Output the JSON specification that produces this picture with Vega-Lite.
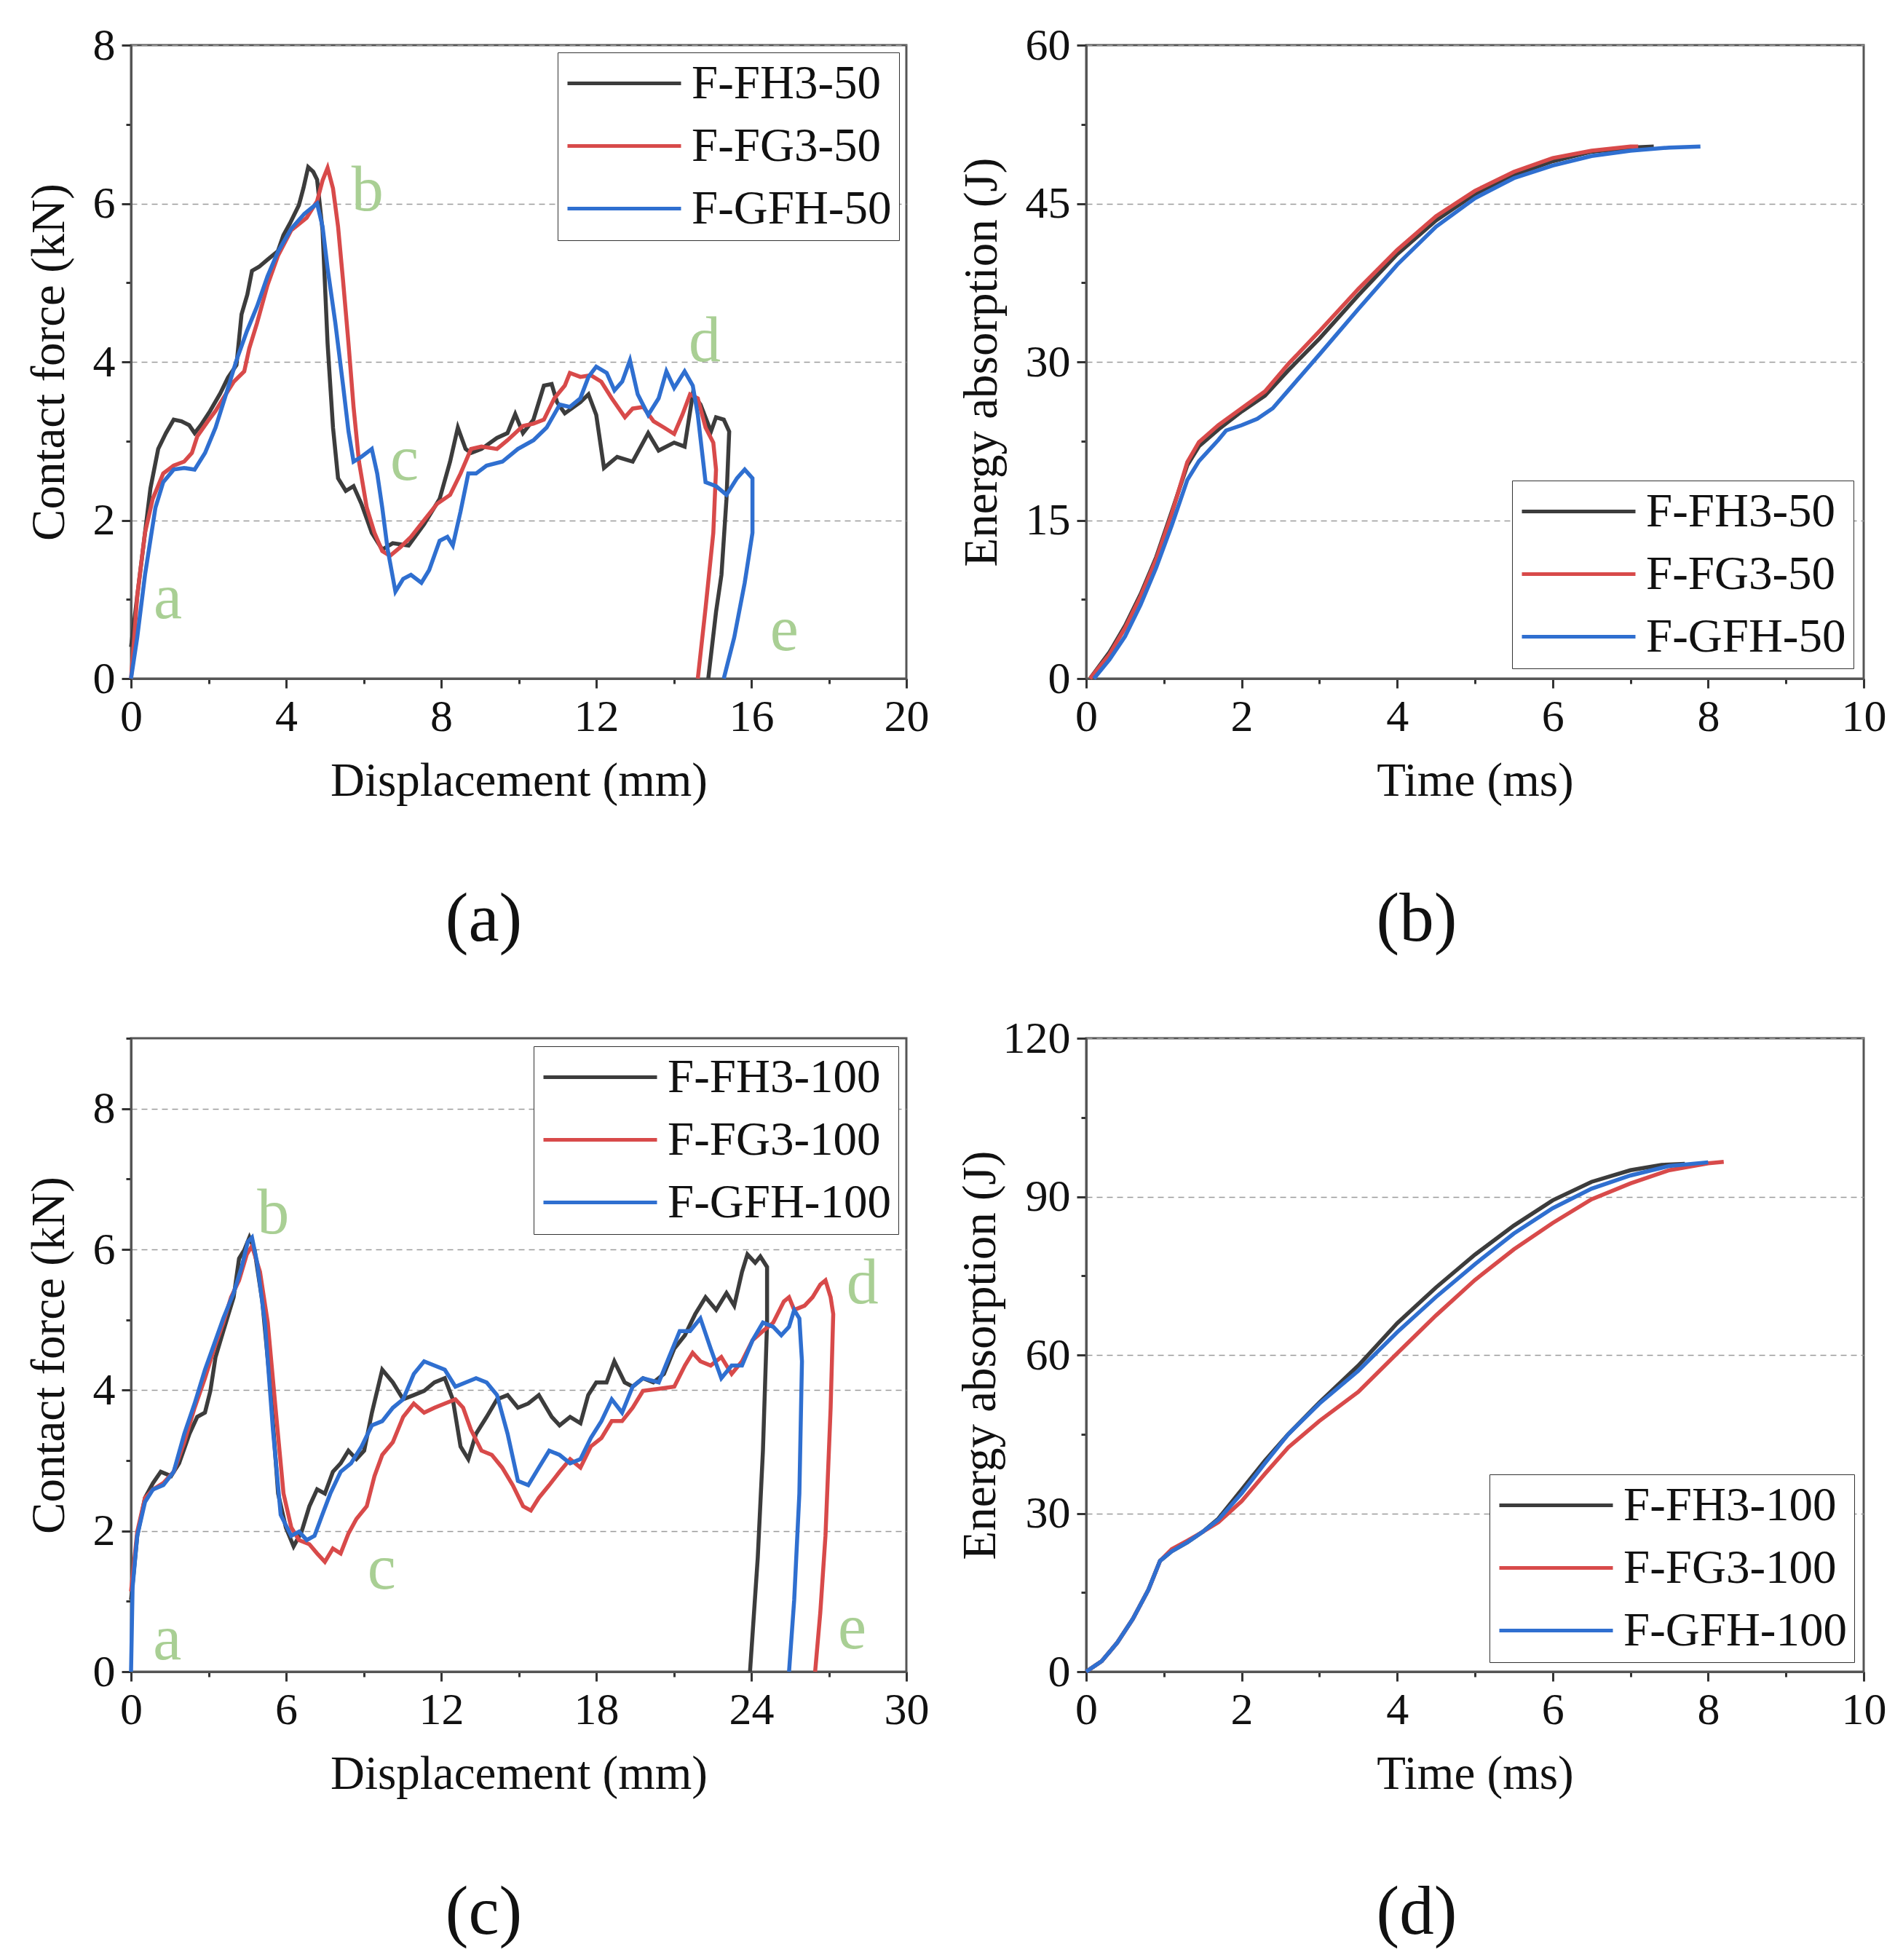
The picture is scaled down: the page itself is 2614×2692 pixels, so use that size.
{
  "$schema": "https://vega.github.io/schema/vega-lite/v6.json",
  "padding": {"left": 33, "top": 29, "right": 5, "bottom": 5},
  "background": "white",
  "config": {
    "font": "Liberation Serif",
    "view": {"stroke": "#555555", "strokeWidth": 3},
    "axis": {
      "labelFont": "Liberation Serif", "titleFont": "Liberation Serif",
      "labelFontSize": 62, "titleFontSize": 65, "titleFontWeight": "normal",
      "labelColor": "#111111", "titleColor": "#111111",
      "domainColor": "#555555", "domainWidth": 3,
      "tickColor": "#333333", "tickWidth": 3, "format": "d",
      "labelPadding": 9, "titlePadding": 26, "grid": false, "labelFlush": false, "labelOverlap": false
    },
    "axisY": {"grid": true, "gridDash": [8, 6], "gridColor": "#9a9a9a", "gridWidth": 1.5},
    "legend": {
      "title": null, "labelFont": "Liberation Serif", "labelFontSize": 65, "labelColor": "#111111",
      "symbolType": "M-3,0H3", "symbolSize": 2704, "symbolStrokeWidth": 5,
      "symbolOffset": 49, "labelOffset": 60, "labelLimit": 0,
      "fillColor": "white", "strokeColor": "#333333", "padding": 10, "rowPadding": 20
    },
    "title": {"font": "Liberation Serif", "fontSize": 95, "fontWeight": "normal", "color": "#111111", "orient": "bottom", "offset": 112}
  },
  "datasets": {
    "fa": [
      {"s":"F-FH3-50","x":0,"y":0.4},{"s":"F-FH3-50","x":0.1,"y":0.8},{"s":"F-FH3-50","x":0.3,"y":1.6},{"s":"F-FH3-50","x":0.5,"y":2.4},{"s":"F-FH3-50","x":0.7,"y":2.9},{"s":"F-FH3-50","x":0.9,"y":3.1},{"s":"F-FH3-50","x":1.1,"y":3.27},{"s":"F-FH3-50","x":1.3,"y":3.25},{"s":"F-FH3-50","x":1.5,"y":3.2},{"s":"F-FH3-50","x":1.64,"y":3.1},{"s":"F-FH3-50","x":1.8,"y":3.2},{"s":"F-FH3-50","x":2.04,"y":3.38},{"s":"F-FH3-50","x":2.3,"y":3.6},{"s":"F-FH3-50","x":2.5,"y":3.8},{"s":"F-FH3-50","x":2.72,"y":3.96},{"s":"F-FH3-50","x":2.85,"y":4.6},{"s":"F-FH3-50","x":3.0,"y":4.85},{"s":"F-FH3-50","x":3.12,"y":5.15},{"s":"F-FH3-50","x":3.3,"y":5.2},{"s":"F-FH3-50","x":3.52,"y":5.29},{"s":"F-FH3-50","x":3.79,"y":5.4},{"s":"F-FH3-50","x":3.93,"y":5.6},{"s":"F-FH3-50","x":4.1,"y":5.75},{"s":"F-FH3-50","x":4.33,"y":5.98},{"s":"F-FH3-50","x":4.45,"y":6.2},{"s":"F-FH3-50","x":4.57,"y":6.46},{"s":"F-FH3-50","x":4.7,"y":6.4},{"s":"F-FH3-50","x":4.8,"y":6.3},{"s":"F-FH3-50","x":4.94,"y":5.66},{"s":"F-FH3-50","x":5.07,"y":4.23},{"s":"F-FH3-50","x":5.21,"y":3.17},{"s":"F-FH3-50","x":5.34,"y":2.53},{"s":"F-FH3-50","x":5.54,"y":2.37},{"s":"F-FH3-50","x":5.74,"y":2.43},{"s":"F-FH3-50","x":5.94,"y":2.21},{"s":"F-FH3-50","x":6.21,"y":1.84},{"s":"F-FH3-50","x":6.48,"y":1.63},{"s":"F-FH3-50","x":6.75,"y":1.71},{"s":"F-FH3-50","x":7.16,"y":1.68},{"s":"F-FH3-50","x":7.56,"y":1.95},{"s":"F-FH3-50","x":7.96,"y":2.27},{"s":"F-FH3-50","x":8.23,"y":2.74},{"s":"F-FH3-50","x":8.43,"y":3.17},{"s":"F-FH3-50","x":8.63,"y":2.9},{"s":"F-FH3-50","x":8.77,"y":2.85},{"s":"F-FH3-50","x":9.04,"y":2.9},{"s":"F-FH3-50","x":9.44,"y":3.04},{"s":"F-FH3-50","x":9.71,"y":3.1},{"s":"F-FH3-50","x":9.91,"y":3.34},{"s":"F-FH3-50","x":10.11,"y":3.1},{"s":"F-FH3-50","x":10.38,"y":3.27},{"s":"F-FH3-50","x":10.65,"y":3.7},{"s":"F-FH3-50","x":10.85,"y":3.72},{"s":"F-FH3-50","x":10.99,"y":3.49},{"s":"F-FH3-50","x":11.19,"y":3.35},{"s":"F-FH3-50","x":11.59,"y":3.49},{"s":"F-FH3-50","x":11.8,"y":3.59},{"s":"F-FH3-50","x":12.0,"y":3.33},{"s":"F-FH3-50","x":12.2,"y":2.66},{"s":"F-FH3-50","x":12.54,"y":2.8},{"s":"F-FH3-50","x":12.94,"y":2.74},{"s":"F-FH3-50","x":13.34,"y":3.1},{"s":"F-FH3-50","x":13.61,"y":2.88},{"s":"F-FH3-50","x":14.01,"y":2.98},{"s":"F-FH3-50","x":14.28,"y":2.93},{"s":"F-FH3-50","x":14.49,"y":3.59},{"s":"F-FH3-50","x":14.69,"y":3.46},{"s":"F-FH3-50","x":14.96,"y":3.12},{"s":"F-FH3-50","x":15.09,"y":3.3},{"s":"F-FH3-50","x":15.29,"y":3.27},{"s":"F-FH3-50","x":15.43,"y":3.12},{"s":"F-FH3-50","x":15.36,"y":2.27},{"s":"F-FH3-50","x":15.23,"y":1.31},{"s":"F-FH3-50","x":15.09,"y":0.84},{"s":"F-FH3-50","x":14.89,"y":0},
      {"s":"F-FG3-50","x":0,"y":0},{"s":"F-FG3-50","x":0.08,"y":0.5},{"s":"F-FG3-50","x":0.16,"y":1.05},{"s":"F-FG3-50","x":0.36,"y":1.84},{"s":"F-FG3-50","x":0.56,"y":2.27},{"s":"F-FG3-50","x":0.83,"y":2.59},{"s":"F-FG3-50","x":1.1,"y":2.69},{"s":"F-FG3-50","x":1.37,"y":2.74},{"s":"F-FG3-50","x":1.57,"y":2.85},{"s":"F-FG3-50","x":1.71,"y":3.06},{"s":"F-FG3-50","x":1.98,"y":3.25},{"s":"F-FG3-50","x":2.18,"y":3.38},{"s":"F-FG3-50","x":2.38,"y":3.54},{"s":"F-FG3-50","x":2.65,"y":3.75},{"s":"F-FG3-50","x":2.92,"y":3.88},{"s":"F-FG3-50","x":3.05,"y":4.17},{"s":"F-FG3-50","x":3.25,"y":4.49},{"s":"F-FG3-50","x":3.52,"y":4.97},{"s":"F-FG3-50","x":3.79,"y":5.34},{"s":"F-FG3-50","x":4.13,"y":5.66},{"s":"F-FG3-50","x":4.53,"y":5.82},{"s":"F-FG3-50","x":4.8,"y":6.03},{"s":"F-FG3-50","x":4.94,"y":6.29},{"s":"F-FG3-50","x":5.07,"y":6.45},{"s":"F-FG3-50","x":5.21,"y":6.19},{"s":"F-FG3-50","x":5.34,"y":5.71},{"s":"F-FG3-50","x":5.47,"y":5.02},{"s":"F-FG3-50","x":5.61,"y":4.23},{"s":"F-FG3-50","x":5.74,"y":3.43},{"s":"F-FG3-50","x":5.88,"y":2.74},{"s":"F-FG3-50","x":6.08,"y":2.16},{"s":"F-FG3-50","x":6.28,"y":1.84},{"s":"F-FG3-50","x":6.48,"y":1.61},{"s":"F-FG3-50","x":6.68,"y":1.55},{"s":"F-FG3-50","x":6.95,"y":1.66},{"s":"F-FG3-50","x":7.22,"y":1.79},{"s":"F-FG3-50","x":7.56,"y":2.0},{"s":"F-FG3-50","x":7.9,"y":2.21},{"s":"F-FG3-50","x":8.23,"y":2.32},{"s":"F-FG3-50","x":8.5,"y":2.59},{"s":"F-FG3-50","x":8.77,"y":2.9},{"s":"F-FG3-50","x":9.04,"y":2.93},{"s":"F-FG3-50","x":9.44,"y":2.9},{"s":"F-FG3-50","x":9.71,"y":3.01},{"s":"F-FG3-50","x":10.11,"y":3.19},{"s":"F-FG3-50","x":10.38,"y":3.22},{"s":"F-FG3-50","x":10.65,"y":3.27},{"s":"F-FG3-50","x":10.92,"y":3.54},{"s":"F-FG3-50","x":11.19,"y":3.7},{"s":"F-FG3-50","x":11.32,"y":3.86},{"s":"F-FG3-50","x":11.59,"y":3.81},{"s":"F-FG3-50","x":11.86,"y":3.83},{"s":"F-FG3-50","x":12.13,"y":3.75},{"s":"F-FG3-50","x":12.4,"y":3.54},{"s":"F-FG3-50","x":12.74,"y":3.3},{"s":"F-FG3-50","x":12.94,"y":3.41},{"s":"F-FG3-50","x":13.21,"y":3.43},{"s":"F-FG3-50","x":13.48,"y":3.25},{"s":"F-FG3-50","x":13.75,"y":3.17},{"s":"F-FG3-50","x":14.01,"y":3.09},{"s":"F-FG3-50","x":14.22,"y":3.33},{"s":"F-FG3-50","x":14.42,"y":3.59},{"s":"F-FG3-50","x":14.62,"y":3.54},{"s":"F-FG3-50","x":14.82,"y":3.17},{"s":"F-FG3-50","x":15.02,"y":2.98},{"s":"F-FG3-50","x":15.09,"y":2.64},{"s":"F-FG3-50","x":15.02,"y":1.84},{"s":"F-FG3-50","x":14.82,"y":0.89},{"s":"F-FG3-50","x":14.62,"y":0},
      {"s":"F-GFH-50","x":0,"y":0},{"s":"F-GFH-50","x":0.16,"y":0.52},{"s":"F-GFH-50","x":0.36,"y":1.31},{"s":"F-GFH-50","x":0.63,"y":2.16},{"s":"F-GFH-50","x":0.83,"y":2.48},{"s":"F-GFH-50","x":1.1,"y":2.64},{"s":"F-GFH-50","x":1.37,"y":2.66},{"s":"F-GFH-50","x":1.64,"y":2.64},{"s":"F-GFH-50","x":1.91,"y":2.85},{"s":"F-GFH-50","x":2.18,"y":3.17},{"s":"F-GFH-50","x":2.45,"y":3.59},{"s":"F-GFH-50","x":2.72,"y":4.02},{"s":"F-GFH-50","x":2.99,"y":4.39},{"s":"F-GFH-50","x":3.25,"y":4.7},{"s":"F-GFH-50","x":3.52,"y":5.08},{"s":"F-GFH-50","x":3.79,"y":5.39},{"s":"F-GFH-50","x":4.13,"y":5.68},{"s":"F-GFH-50","x":4.47,"y":5.87},{"s":"F-GFH-50","x":4.8,"y":6.0},{"s":"F-GFH-50","x":4.94,"y":5.71},{"s":"F-GFH-50","x":5.07,"y":5.18},{"s":"F-GFH-50","x":5.27,"y":4.49},{"s":"F-GFH-50","x":5.47,"y":3.7},{"s":"F-GFH-50","x":5.61,"y":3.12},{"s":"F-GFH-50","x":5.74,"y":2.74},{"s":"F-GFH-50","x":5.94,"y":2.8},{"s":"F-GFH-50","x":6.21,"y":2.9},{"s":"F-GFH-50","x":6.35,"y":2.59},{"s":"F-GFH-50","x":6.48,"y":2.16},{"s":"F-GFH-50","x":6.62,"y":1.63},{"s":"F-GFH-50","x":6.82,"y":1.1},{"s":"F-GFH-50","x":7.02,"y":1.26},{"s":"F-GFH-50","x":7.22,"y":1.31},{"s":"F-GFH-50","x":7.49,"y":1.21},{"s":"F-GFH-50","x":7.69,"y":1.37},{"s":"F-GFH-50","x":7.96,"y":1.74},{"s":"F-GFH-50","x":8.16,"y":1.79},{"s":"F-GFH-50","x":8.3,"y":1.68},{"s":"F-GFH-50","x":8.5,"y":2.11},{"s":"F-GFH-50","x":8.7,"y":2.59},{"s":"F-GFH-50","x":8.9,"y":2.59},{"s":"F-GFH-50","x":9.17,"y":2.69},{"s":"F-GFH-50","x":9.58,"y":2.74},{"s":"F-GFH-50","x":9.98,"y":2.9},{"s":"F-GFH-50","x":10.38,"y":3.01},{"s":"F-GFH-50","x":10.72,"y":3.17},{"s":"F-GFH-50","x":11.06,"y":3.46},{"s":"F-GFH-50","x":11.32,"y":3.43},{"s":"F-GFH-50","x":11.59,"y":3.54},{"s":"F-GFH-50","x":11.8,"y":3.81},{"s":"F-GFH-50","x":12.0,"y":3.94},{"s":"F-GFH-50","x":12.27,"y":3.86},{"s":"F-GFH-50","x":12.47,"y":3.64},{"s":"F-GFH-50","x":12.67,"y":3.75},{"s":"F-GFH-50","x":12.87,"y":4.02},{"s":"F-GFH-50","x":13.07,"y":3.59},{"s":"F-GFH-50","x":13.34,"y":3.33},{"s":"F-GFH-50","x":13.61,"y":3.54},{"s":"F-GFH-50","x":13.81,"y":3.88},{"s":"F-GFH-50","x":14.01,"y":3.67},{"s":"F-GFH-50","x":14.28,"y":3.88},{"s":"F-GFH-50","x":14.49,"y":3.7},{"s":"F-GFH-50","x":14.62,"y":3.33},{"s":"F-GFH-50","x":14.82,"y":2.48},{"s":"F-GFH-50","x":15.09,"y":2.43},{"s":"F-GFH-50","x":15.36,"y":2.32},{"s":"F-GFH-50","x":15.63,"y":2.53},{"s":"F-GFH-50","x":15.83,"y":2.64},{"s":"F-GFH-50","x":16.03,"y":2.53},{"s":"F-GFH-50","x":16.03,"y":1.84},{"s":"F-GFH-50","x":15.83,"y":1.21},{"s":"F-GFH-50","x":15.56,"y":0.52},{"s":"F-GFH-50","x":15.29,"y":0}
    ],
    "fb": [
      {"s":"F-FH3-50","x":0.05,"y":0},{"s":"F-FH3-50","x":0.3,"y":2.5},{"s":"F-FH3-50","x":0.5,"y":5.0},{"s":"F-FH3-50","x":0.7,"y":8.0},{"s":"F-FH3-50","x":0.9,"y":11.5},{"s":"F-FH3-50","x":1.1,"y":15.8},{"s":"F-FH3-50","x":1.3,"y":20.2},{"s":"F-FH3-50","x":1.45,"y":22.0},{"s":"F-FH3-50","x":1.7,"y":23.6},{"s":"F-FH3-50","x":2.0,"y":25.3},{"s":"F-FH3-50","x":2.3,"y":26.8},{"s":"F-FH3-50","x":2.6,"y":29.2},{"s":"F-FH3-50","x":3.0,"y":32.2},{"s":"F-FH3-50","x":3.5,"y":36.3},{"s":"F-FH3-50","x":4.0,"y":40.2},{"s":"F-FH3-50","x":4.5,"y":43.4},{"s":"F-FH3-50","x":5.0,"y":45.9},{"s":"F-FH3-50","x":5.5,"y":47.7},{"s":"F-FH3-50","x":6.0,"y":49.0},{"s":"F-FH3-50","x":6.5,"y":49.9},{"s":"F-FH3-50","x":7.0,"y":50.3},{"s":"F-FH3-50","x":7.3,"y":50.4},
      {"s":"F-FG3-50","x":0.05,"y":0},{"s":"F-FG3-50","x":0.3,"y":2.3},{"s":"F-FG3-50","x":0.5,"y":4.8},{"s":"F-FG3-50","x":0.7,"y":7.8},{"s":"F-FG3-50","x":0.9,"y":11.3},{"s":"F-FG3-50","x":1.1,"y":15.6},{"s":"F-FG3-50","x":1.3,"y":20.5},{"s":"F-FG3-50","x":1.45,"y":22.4},{"s":"F-FG3-50","x":1.7,"y":24.0},{"s":"F-FG3-50","x":2.0,"y":25.6},{"s":"F-FG3-50","x":2.3,"y":27.2},{"s":"F-FG3-50","x":2.6,"y":29.8},{"s":"F-FG3-50","x":3.0,"y":32.9},{"s":"F-FG3-50","x":3.5,"y":36.9},{"s":"F-FG3-50","x":4.0,"y":40.6},{"s":"F-FG3-50","x":4.5,"y":43.8},{"s":"F-FG3-50","x":5.0,"y":46.2},{"s":"F-FG3-50","x":5.5,"y":48.0},{"s":"F-FG3-50","x":6.0,"y":49.3},{"s":"F-FG3-50","x":6.5,"y":50.0},{"s":"F-FG3-50","x":7.0,"y":50.4},{"s":"F-FG3-50","x":7.1,"y":50.4},
      {"s":"F-GFH-50","x":0.1,"y":0},{"s":"F-GFH-50","x":0.3,"y":1.8},{"s":"F-GFH-50","x":0.5,"y":4.0},{"s":"F-GFH-50","x":0.7,"y":7.0},{"s":"F-GFH-50","x":0.9,"y":10.5},{"s":"F-GFH-50","x":1.1,"y":14.5},{"s":"F-GFH-50","x":1.3,"y":18.8},{"s":"F-GFH-50","x":1.45,"y":20.6},{"s":"F-GFH-50","x":1.7,"y":22.6},{"s":"F-GFH-50","x":1.8,"y":23.5},{"s":"F-GFH-50","x":2.0,"y":24.0},{"s":"F-GFH-50","x":2.2,"y":24.6},{"s":"F-GFH-50","x":2.4,"y":25.6},{"s":"F-GFH-50","x":2.6,"y":27.3},{"s":"F-GFH-50","x":3.0,"y":30.7},{"s":"F-GFH-50","x":3.5,"y":35.0},{"s":"F-GFH-50","x":4.0,"y":39.2},{"s":"F-GFH-50","x":4.5,"y":42.8},{"s":"F-GFH-50","x":5.0,"y":45.5},{"s":"F-GFH-50","x":5.5,"y":47.4},{"s":"F-GFH-50","x":6.0,"y":48.6},{"s":"F-GFH-50","x":6.5,"y":49.5},{"s":"F-GFH-50","x":7.0,"y":50.0},{"s":"F-GFH-50","x":7.5,"y":50.3},{"s":"F-GFH-50","x":7.9,"y":50.4}
    ],
    "fc": [
      {"s":"F-FH3-100","x":0,"y":1.02},{"s":"F-FH3-100","x":0.24,"y":1.93},{"s":"F-FH3-100","x":0.54,"y":2.47},{"s":"F-FH3-100","x":0.85,"y":2.68},{"s":"F-FH3-100","x":1.15,"y":2.84},{"s":"F-FH3-100","x":1.55,"y":2.78},{"s":"F-FH3-100","x":1.86,"y":2.96},{"s":"F-FH3-100","x":2.26,"y":3.38},{"s":"F-FH3-100","x":2.56,"y":3.62},{"s":"F-FH3-100","x":2.86,"y":3.68},{"s":"F-FH3-100","x":3.07,"y":3.99},{"s":"F-FH3-100","x":3.27,"y":4.47},{"s":"F-FH3-100","x":3.57,"y":4.84},{"s":"F-FH3-100","x":3.97,"y":5.32},{"s":"F-FH3-100","x":4.18,"y":5.87},{"s":"F-FH3-100","x":4.38,"y":5.99},{"s":"F-FH3-100","x":4.58,"y":6.17},{"s":"F-FH3-100","x":4.78,"y":5.99},{"s":"F-FH3-100","x":5.08,"y":5.26},{"s":"F-FH3-100","x":5.39,"y":4.05},{"s":"F-FH3-100","x":5.69,"y":2.53},{"s":"F-FH3-100","x":5.99,"y":2.05},{"s":"F-FH3-100","x":6.29,"y":1.78},{"s":"F-FH3-100","x":6.6,"y":1.99},{"s":"F-FH3-100","x":6.9,"y":2.35},{"s":"F-FH3-100","x":7.2,"y":2.59},{"s":"F-FH3-100","x":7.5,"y":2.53},{"s":"F-FH3-100","x":7.81,"y":2.84},{"s":"F-FH3-100","x":8.11,"y":2.96},{"s":"F-FH3-100","x":8.41,"y":3.14},{"s":"F-FH3-100","x":8.72,"y":3.02},{"s":"F-FH3-100","x":9.02,"y":3.14},{"s":"F-FH3-100","x":9.32,"y":3.68},{"s":"F-FH3-100","x":9.72,"y":4.29},{"s":"F-FH3-100","x":10.13,"y":4.11},{"s":"F-FH3-100","x":10.53,"y":3.87},{"s":"F-FH3-100","x":10.94,"y":3.93},{"s":"F-FH3-100","x":11.34,"y":3.99},{"s":"F-FH3-100","x":11.74,"y":4.11},{"s":"F-FH3-100","x":12.14,"y":4.17},{"s":"F-FH3-100","x":12.45,"y":3.87},{"s":"F-FH3-100","x":12.75,"y":3.2},{"s":"F-FH3-100","x":13.05,"y":3.02},{"s":"F-FH3-100","x":13.35,"y":3.38},{"s":"F-FH3-100","x":13.76,"y":3.62},{"s":"F-FH3-100","x":14.16,"y":3.87},{"s":"F-FH3-100","x":14.57,"y":3.93},{"s":"F-FH3-100","x":14.97,"y":3.75},{"s":"F-FH3-100","x":15.37,"y":3.81},{"s":"F-FH3-100","x":15.78,"y":3.93},{"s":"F-FH3-100","x":16.28,"y":3.62},{"s":"F-FH3-100","x":16.58,"y":3.5},{"s":"F-FH3-100","x":16.99,"y":3.62},{"s":"F-FH3-100","x":17.39,"y":3.53},{"s":"F-FH3-100","x":17.69,"y":3.93},{"s":"F-FH3-100","x":18.0,"y":4.11},{"s":"F-FH3-100","x":18.4,"y":4.11},{"s":"F-FH3-100","x":18.7,"y":4.41},{"s":"F-FH3-100","x":19.1,"y":4.11},{"s":"F-FH3-100","x":19.41,"y":4.05},{"s":"F-FH3-100","x":19.81,"y":4.17},{"s":"F-FH3-100","x":20.21,"y":4.11},{"s":"F-FH3-100","x":20.62,"y":4.23},{"s":"F-FH3-100","x":21.02,"y":4.59},{"s":"F-FH3-100","x":21.43,"y":4.78},{"s":"F-FH3-100","x":21.83,"y":5.08},{"s":"F-FH3-100","x":22.23,"y":5.32},{"s":"F-FH3-100","x":22.64,"y":5.14},{"s":"F-FH3-100","x":23.04,"y":5.38},{"s":"F-FH3-100","x":23.34,"y":5.2},{"s":"F-FH3-100","x":23.64,"y":5.68},{"s":"F-FH3-100","x":23.85,"y":5.93},{"s":"F-FH3-100","x":24.15,"y":5.81},{"s":"F-FH3-100","x":24.35,"y":5.9},{"s":"F-FH3-100","x":24.61,"y":5.75},{"s":"F-FH3-100","x":24.61,"y":4.96},{"s":"F-FH3-100","x":24.45,"y":3.14},{"s":"F-FH3-100","x":24.25,"y":1.62},{"s":"F-FH3-100","x":23.95,"y":0},
      {"s":"F-FG3-100","x":0,"y":1.14},{"s":"F-FG3-100","x":0.24,"y":1.99},{"s":"F-FG3-100","x":0.54,"y":2.47},{"s":"F-FG3-100","x":0.85,"y":2.59},{"s":"F-FG3-100","x":1.25,"y":2.68},{"s":"F-FG3-100","x":1.65,"y":2.84},{"s":"F-FG3-100","x":2.06,"y":3.26},{"s":"F-FG3-100","x":2.46,"y":3.75},{"s":"F-FG3-100","x":2.86,"y":4.17},{"s":"F-FG3-100","x":3.27,"y":4.65},{"s":"F-FG3-100","x":3.57,"y":4.96},{"s":"F-FG3-100","x":3.87,"y":5.32},{"s":"F-FG3-100","x":4.18,"y":5.56},{"s":"F-FG3-100","x":4.48,"y":5.93},{"s":"F-FG3-100","x":4.68,"y":6.05},{"s":"F-FG3-100","x":4.99,"y":5.68},{"s":"F-FG3-100","x":5.29,"y":4.96},{"s":"F-FG3-100","x":5.59,"y":3.75},{"s":"F-FG3-100","x":5.9,"y":2.53},{"s":"F-FG3-100","x":6.2,"y":2.05},{"s":"F-FG3-100","x":6.5,"y":1.87},{"s":"F-FG3-100","x":6.9,"y":1.81},{"s":"F-FG3-100","x":7.2,"y":1.68},{"s":"F-FG3-100","x":7.5,"y":1.56},{"s":"F-FG3-100","x":7.81,"y":1.75},{"s":"F-FG3-100","x":8.11,"y":1.68},{"s":"F-FG3-100","x":8.41,"y":1.96},{"s":"F-FG3-100","x":8.72,"y":2.17},{"s":"F-FG3-100","x":9.12,"y":2.35},{"s":"F-FG3-100","x":9.42,"y":2.78},{"s":"F-FG3-100","x":9.72,"y":3.08},{"s":"F-FG3-100","x":10.13,"y":3.26},{"s":"F-FG3-100","x":10.53,"y":3.62},{"s":"F-FG3-100","x":10.94,"y":3.81},{"s":"F-FG3-100","x":11.34,"y":3.68},{"s":"F-FG3-100","x":11.74,"y":3.75},{"s":"F-FG3-100","x":12.14,"y":3.81},{"s":"F-FG3-100","x":12.55,"y":3.87},{"s":"F-FG3-100","x":12.85,"y":3.75},{"s":"F-FG3-100","x":13.15,"y":3.44},{"s":"F-FG3-100","x":13.56,"y":3.14},{"s":"F-FG3-100","x":13.96,"y":3.08},{"s":"F-FG3-100","x":14.36,"y":2.9},{"s":"F-FG3-100","x":14.77,"y":2.65},{"s":"F-FG3-100","x":15.17,"y":2.35},{"s":"F-FG3-100","x":15.47,"y":2.29},{"s":"F-FG3-100","x":15.78,"y":2.47},{"s":"F-FG3-100","x":16.18,"y":2.65},{"s":"F-FG3-100","x":16.58,"y":2.84},{"s":"F-FG3-100","x":16.99,"y":3.02},{"s":"F-FG3-100","x":17.39,"y":2.9},{"s":"F-FG3-100","x":17.79,"y":3.2},{"s":"F-FG3-100","x":18.2,"y":3.32},{"s":"F-FG3-100","x":18.6,"y":3.56},{"s":"F-FG3-100","x":19.0,"y":3.56},{"s":"F-FG3-100","x":19.41,"y":3.75},{"s":"F-FG3-100","x":19.81,"y":3.99},{"s":"F-FG3-100","x":20.42,"y":4.02},{"s":"F-FG3-100","x":21.02,"y":4.05},{"s":"F-FG3-100","x":21.43,"y":4.35},{"s":"F-FG3-100","x":21.73,"y":4.53},{"s":"F-FG3-100","x":22.03,"y":4.41},{"s":"F-FG3-100","x":22.43,"y":4.35},{"s":"F-FG3-100","x":22.84,"y":4.47},{"s":"F-FG3-100","x":23.24,"y":4.23},{"s":"F-FG3-100","x":23.64,"y":4.41},{"s":"F-FG3-100","x":24.05,"y":4.71},{"s":"F-FG3-100","x":24.45,"y":4.84},{"s":"F-FG3-100","x":24.85,"y":4.96},{"s":"F-FG3-100","x":25.26,"y":5.26},{"s":"F-FG3-100","x":25.46,"y":5.32},{"s":"F-FG3-100","x":25.66,"y":5.14},{"s":"F-FG3-100","x":26.06,"y":5.2},{"s":"F-FG3-100","x":26.37,"y":5.32},{"s":"F-FG3-100","x":26.67,"y":5.5},{"s":"F-FG3-100","x":26.87,"y":5.56},{"s":"F-FG3-100","x":27.07,"y":5.32},{"s":"F-FG3-100","x":27.17,"y":5.08},{"s":"F-FG3-100","x":27.07,"y":3.75},{"s":"F-FG3-100","x":26.87,"y":1.93},{"s":"F-FG3-100","x":26.67,"y":0.84},{"s":"F-FG3-100","x":26.47,"y":0},
      {"s":"F-GFH-100","x":0,"y":0},{"s":"F-GFH-100","x":0.06,"y":1.2},{"s":"F-GFH-100","x":0.24,"y":1.93},{"s":"F-GFH-100","x":0.54,"y":2.41},{"s":"F-GFH-100","x":0.85,"y":2.59},{"s":"F-GFH-100","x":1.25,"y":2.65},{"s":"F-GFH-100","x":1.65,"y":2.84},{"s":"F-GFH-100","x":2.06,"y":3.38},{"s":"F-GFH-100","x":2.46,"y":3.81},{"s":"F-GFH-100","x":2.86,"y":4.29},{"s":"F-GFH-100","x":3.27,"y":4.71},{"s":"F-GFH-100","x":3.57,"y":5.02},{"s":"F-GFH-100","x":3.97,"y":5.38},{"s":"F-GFH-100","x":4.28,"y":5.75},{"s":"F-GFH-100","x":4.52,"y":6.11},{"s":"F-GFH-100","x":4.68,"y":6.17},{"s":"F-GFH-100","x":4.88,"y":5.81},{"s":"F-GFH-100","x":5.18,"y":4.96},{"s":"F-GFH-100","x":5.49,"y":3.44},{"s":"F-GFH-100","x":5.79,"y":2.23},{"s":"F-GFH-100","x":6.2,"y":1.93},{"s":"F-GFH-100","x":6.5,"y":1.99},{"s":"F-GFH-100","x":6.8,"y":1.87},{"s":"F-GFH-100","x":7.1,"y":1.93},{"s":"F-GFH-100","x":7.4,"y":2.23},{"s":"F-GFH-100","x":7.71,"y":2.53},{"s":"F-GFH-100","x":8.11,"y":2.84},{"s":"F-GFH-100","x":8.51,"y":2.96},{"s":"F-GFH-100","x":8.92,"y":3.2},{"s":"F-GFH-100","x":9.32,"y":3.5},{"s":"F-GFH-100","x":9.72,"y":3.56},{"s":"F-GFH-100","x":10.13,"y":3.75},{"s":"F-GFH-100","x":10.53,"y":3.87},{"s":"F-GFH-100","x":10.94,"y":4.23},{"s":"F-GFH-100","x":11.34,"y":4.41},{"s":"F-GFH-100","x":11.74,"y":4.35},{"s":"F-GFH-100","x":12.14,"y":4.29},{"s":"F-GFH-100","x":12.55,"y":4.05},{"s":"F-GFH-100","x":12.95,"y":4.11},{"s":"F-GFH-100","x":13.35,"y":4.17},{"s":"F-GFH-100","x":13.76,"y":4.11},{"s":"F-GFH-100","x":14.16,"y":3.93},{"s":"F-GFH-100","x":14.57,"y":3.38},{"s":"F-GFH-100","x":14.97,"y":2.71},{"s":"F-GFH-100","x":15.37,"y":2.65},{"s":"F-GFH-100","x":15.78,"y":2.9},{"s":"F-GFH-100","x":16.18,"y":3.14},{"s":"F-GFH-100","x":16.58,"y":3.08},{"s":"F-GFH-100","x":16.99,"y":2.96},{"s":"F-GFH-100","x":17.39,"y":3.02},{"s":"F-GFH-100","x":17.79,"y":3.32},{"s":"F-GFH-100","x":18.2,"y":3.56},{"s":"F-GFH-100","x":18.6,"y":3.87},{"s":"F-GFH-100","x":19.0,"y":3.68},{"s":"F-GFH-100","x":19.41,"y":4.05},{"s":"F-GFH-100","x":19.81,"y":4.17},{"s":"F-GFH-100","x":20.42,"y":4.11},{"s":"F-GFH-100","x":20.82,"y":4.47},{"s":"F-GFH-100","x":21.23,"y":4.84},{"s":"F-GFH-100","x":21.63,"y":4.84},{"s":"F-GFH-100","x":22.03,"y":5.02},{"s":"F-GFH-100","x":22.43,"y":4.59},{"s":"F-GFH-100","x":22.84,"y":4.17},{"s":"F-GFH-100","x":23.24,"y":4.35},{"s":"F-GFH-100","x":23.64,"y":4.35},{"s":"F-GFH-100","x":24.05,"y":4.71},{"s":"F-GFH-100","x":24.45,"y":4.96},{"s":"F-GFH-100","x":24.85,"y":4.9},{"s":"F-GFH-100","x":25.16,"y":4.78},{"s":"F-GFH-100","x":25.46,"y":4.9},{"s":"F-GFH-100","x":25.66,"y":5.14},{"s":"F-GFH-100","x":25.86,"y":5.02},{"s":"F-GFH-100","x":25.96,"y":4.41},{"s":"F-GFH-100","x":25.86,"y":2.53},{"s":"F-GFH-100","x":25.66,"y":1.02},{"s":"F-GFH-100","x":25.46,"y":0}
    ],
    "fd": [
      {"s":"F-FH3-100","x":0,"y":0},{"s":"F-FH3-100","x":0.2,"y":2},{"s":"F-FH3-100","x":0.4,"y":5.5},{"s":"F-FH3-100","x":0.6,"y":10},{"s":"F-FH3-100","x":0.8,"y":15.5},{"s":"F-FH3-100","x":0.95,"y":21},{"s":"F-FH3-100","x":1.1,"y":22.8},{"s":"F-FH3-100","x":1.3,"y":24.5},{"s":"F-FH3-100","x":1.5,"y":26.5},{"s":"F-FH3-100","x":1.7,"y":29},{"s":"F-FH3-100","x":2.0,"y":34.5},{"s":"F-FH3-100","x":2.3,"y":40},{"s":"F-FH3-100","x":2.6,"y":45},{"s":"F-FH3-100","x":3.0,"y":51},{"s":"F-FH3-100","x":3.5,"y":58},{"s":"F-FH3-100","x":4.0,"y":66},{"s":"F-FH3-100","x":4.5,"y":72.8},{"s":"F-FH3-100","x":5.0,"y":79},{"s":"F-FH3-100","x":5.5,"y":84.5},{"s":"F-FH3-100","x":6.0,"y":89.3},{"s":"F-FH3-100","x":6.5,"y":92.8},{"s":"F-FH3-100","x":7.0,"y":95},{"s":"F-FH3-100","x":7.4,"y":96},{"s":"F-FH3-100","x":7.7,"y":96.2},
      {"s":"F-FG3-100","x":0,"y":0},{"s":"F-FG3-100","x":0.2,"y":2},{"s":"F-FG3-100","x":0.4,"y":5.5},{"s":"F-FG3-100","x":0.6,"y":10},{"s":"F-FG3-100","x":0.8,"y":15.5},{"s":"F-FG3-100","x":0.95,"y":21},{"s":"F-FG3-100","x":1.1,"y":23.2},{"s":"F-FG3-100","x":1.3,"y":24.8},{"s":"F-FG3-100","x":1.5,"y":26.5},{"s":"F-FG3-100","x":1.7,"y":28.3},{"s":"F-FG3-100","x":2.0,"y":32.3},{"s":"F-FG3-100","x":2.3,"y":37.5},{"s":"F-FG3-100","x":2.6,"y":42.5},{"s":"F-FG3-100","x":3.0,"y":47.5},{"s":"F-FG3-100","x":3.5,"y":53},{"s":"F-FG3-100","x":4.0,"y":60.3},{"s":"F-FG3-100","x":4.5,"y":67.5},{"s":"F-FG3-100","x":5.0,"y":74.2},{"s":"F-FG3-100","x":5.5,"y":80},{"s":"F-FG3-100","x":6.0,"y":85},{"s":"F-FG3-100","x":6.5,"y":89.5},{"s":"F-FG3-100","x":7.0,"y":92.5},{"s":"F-FG3-100","x":7.5,"y":95},{"s":"F-FG3-100","x":8.0,"y":96.3},{"s":"F-FG3-100","x":8.2,"y":96.6},
      {"s":"F-GFH-100","x":0,"y":0},{"s":"F-GFH-100","x":0.2,"y":2},{"s":"F-GFH-100","x":0.4,"y":5.5},{"s":"F-GFH-100","x":0.6,"y":10},{"s":"F-GFH-100","x":0.8,"y":15.5},{"s":"F-GFH-100","x":0.95,"y":21},{"s":"F-GFH-100","x":1.1,"y":22.8},{"s":"F-GFH-100","x":1.3,"y":24.5},{"s":"F-GFH-100","x":1.5,"y":26.5},{"s":"F-GFH-100","x":1.7,"y":28.8},{"s":"F-GFH-100","x":2.0,"y":33.8},{"s":"F-GFH-100","x":2.3,"y":39.5},{"s":"F-GFH-100","x":2.6,"y":45},{"s":"F-GFH-100","x":3.0,"y":50.8},{"s":"F-GFH-100","x":3.5,"y":57},{"s":"F-GFH-100","x":4.0,"y":64.3},{"s":"F-GFH-100","x":4.5,"y":71},{"s":"F-GFH-100","x":5.0,"y":77.2},{"s":"F-GFH-100","x":5.5,"y":83},{"s":"F-GFH-100","x":6.0,"y":87.8},{"s":"F-GFH-100","x":6.5,"y":91.5},{"s":"F-GFH-100","x":7.0,"y":94},{"s":"F-GFH-100","x":7.5,"y":95.8},{"s":"F-GFH-100","x":8.0,"y":96.5}
    ],
    "ta": [
      {"t":"a","x":0.95,"y":1.0},{"t":"b","x":6.1,"y":6.15},{"t":"c","x":7.05,"y":2.75},{"t":"d","x":14.8,"y":4.25},{"t":"e","x":16.85,"y":0.6}
    ],
    "tc": [
      {"t":"a","x":1.4,"y":0.45},{"t":"b","x":5.5,"y":6.5},{"t":"c","x":9.7,"y":1.45},{"t":"d","x":28.3,"y":5.5},{"t":"e","x":27.9,"y":0.6}
    ]
  },
  "columns": 2,
  "spacing": {"row": 494, "column": 247},
  "bounds": "flush",
  "resolve": {"scale": {"color": "independent"}, "legend": {"color": "independent"}},
  "concat": [
    {
      "width": 1065, "height": 870,
      "title": {"text": "(a)", "dx": -48},
      "layer": [
        {
          "data": {"name": "fa"},
          "mark": {"type": "line", "strokeWidth": 5.5},
          "encoding": {
            "x": {"field": "x", "type": "quantitative", "title": "Displacement (mm)", "scale": {"domain": [0, 20], "nice": false},
              "axis": {"values": [0,2,4,6,8,10,12,14,16,18,20], "labelExpr": "datum.value % 4 === 0 ? datum.label : ''",
                "tickSize": {"condition": {"test": "datum.value % 4 === 0", "value": 13}, "value": 7}}},
            "y": {"field": "y", "type": "quantitative", "title": "Contact force (kN)", "scale": {"domain": [0, 8], "nice": false},
              "axis": {"values": [0,1,2,3,4,5,6,7,8], "labelExpr": "datum.value % 2 === 0 ? datum.label : ''",
                "tickSize": {"condition": {"test": "datum.value % 2 === 0", "value": 13}, "value": 7},
                "gridOpacity": {"condition": {"test": "datum.value % 2 === 0", "value": 1}, "value": 0}}},
            "color": {"field": "s", "type": "nominal",
              "scale": {"domain": ["F-FH3-50", "F-FG3-50", "F-GFH-50"], "range": ["#3c3c3c", "#d84a4a", "#2f6fd0"]},
              "legend": {"orient": "top-right", "offset": 10}},
            "order": {"value": null}
          }
        },
        {
          "data": {"name": "ta"},
          "mark": {"type": "text", "color": "#a9cf94", "fontSize": 88, "font": "Liberation Serif", "baseline": "middle", "align": "center"},
          "encoding": {
            "x": {"field": "x", "type": "quantitative", "title": "Displacement (mm)"},
            "y": {"field": "y", "type": "quantitative", "title": "Contact force (kN)"},
            "text": {"field": "t"}
          }
        }
      ]
    },
    {
      "width": 1068, "height": 870,
      "title": {"text": "(b)", "dx": -80},
      "data": {"name": "fb"},
      "mark": {"type": "line", "strokeWidth": 5.5},
      "encoding": {
        "x": {"field": "x", "type": "quantitative", "title": "Time (ms)", "scale": {"domain": [0, 10], "nice": false},
          "axis": {"values": [0,1,2,3,4,5,6,7,8,9,10], "labelExpr": "datum.value % 2 === 0 ? datum.label : ''",
            "tickSize": {"condition": {"test": "datum.value % 2 === 0", "value": 13}, "value": 7}}},
        "y": {"field": "y", "type": "quantitative", "title": "Energy absorption (J)", "scale": {"domain": [0, 60], "nice": false},
          "axis": {"values": [0,7.5,15,22.5,30,37.5,45,52.5,60], "labelExpr": "datum.value % 15 === 0 ? datum.label : ''",
            "tickSize": {"condition": {"test": "datum.value % 15 === 0", "value": 13}, "value": 7},
            "gridOpacity": {"condition": {"test": "datum.value % 15 === 0", "value": 1}, "value": 0}}},
        "color": {"field": "s", "type": "nominal",
          "scale": {"domain": ["F-FH3-50", "F-FG3-50", "F-GFH-50"], "range": ["#3c3c3c", "#d84a4a", "#2f6fd0"]},
          "legend": {"orient": "bottom-right", "offset": 14}},
        "order": {"value": null}
      }
    },
    {
      "width": 1065, "height": 870,
      "title": {"text": "(c)", "dx": -48},
      "layer": [
        {
          "data": {"name": "fc"},
          "mark": {"type": "line", "strokeWidth": 5.5},
          "encoding": {
            "x": {"field": "x", "type": "quantitative", "title": "Displacement (mm)", "scale": {"domain": [0, 30], "nice": false},
              "axis": {"values": [0,3,6,9,12,15,18,21,24,27,30], "labelExpr": "datum.value % 6 === 0 ? datum.label : ''",
                "tickSize": {"condition": {"test": "datum.value % 6 === 0", "value": 13}, "value": 7}}},
            "y": {"field": "y", "type": "quantitative", "title": "Contact force (kN)", "scale": {"domain": [0, 9], "nice": false},
              "axis": {"values": [0,1,2,3,4,5,6,7,8,9], "labelExpr": "datum.value % 2 === 0 ? datum.label : ''",
                "tickSize": {"condition": {"test": "datum.value % 2 === 0", "value": 13}, "value": 7},
                "gridOpacity": {"condition": {"test": "datum.value % 2 === 0", "value": 1}, "value": 0}}},
            "color": {"field": "s", "type": "nominal",
              "scale": {"domain": ["F-FH3-100", "F-FG3-100", "F-GFH-100"], "range": ["#3c3c3c", "#d84a4a", "#2f6fd0"]},
              "legend": {"orient": "top-right", "offset": 11}},
            "order": {"value": null}
          }
        },
        {
          "data": {"name": "tc"},
          "mark": {"type": "text", "color": "#a9cf94", "fontSize": 88, "font": "Liberation Serif", "baseline": "middle", "align": "center"},
          "encoding": {
            "x": {"field": "x", "type": "quantitative", "title": "Displacement (mm)"},
            "y": {"field": "y", "type": "quantitative", "title": "Contact force (kN)"},
            "text": {"field": "t"}
          }
        }
      ]
    },
    {
      "width": 1068, "height": 870,
      "title": {"text": "(d)", "dx": -80},
      "data": {"name": "fd"},
      "mark": {"type": "line", "strokeWidth": 5.5},
      "encoding": {
        "x": {"field": "x", "type": "quantitative", "title": "Time (ms)", "scale": {"domain": [0, 10], "nice": false},
          "axis": {"values": [0,1,2,3,4,5,6,7,8,9,10], "labelExpr": "datum.value % 2 === 0 ? datum.label : ''",
            "tickSize": {"condition": {"test": "datum.value % 2 === 0", "value": 13}, "value": 7}}},
        "y": {"field": "y", "type": "quantitative", "title": "Energy absorption (J)", "scale": {"domain": [0, 120], "nice": false},
          "axis": {"values": [0,15,30,45,60,75,90,105,120], "labelExpr": "datum.value % 30 === 0 ? datum.label : ''", "titlePadding": -3,
            "tickSize": {"condition": {"test": "datum.value % 30 === 0", "value": 13}, "value": 7},
            "gridOpacity": {"condition": {"test": "datum.value % 30 === 0", "value": 1}, "value": 0}}},
        "color": {"field": "s", "type": "nominal",
          "scale": {"domain": ["F-FH3-100", "F-FG3-100", "F-GFH-100"], "range": ["#3c3c3c", "#d84a4a", "#2f6fd0"]},
          "legend": {"orient": "bottom-right", "offset": 13}},
        "order": {"value": null}
      }
    }
  ]
}
